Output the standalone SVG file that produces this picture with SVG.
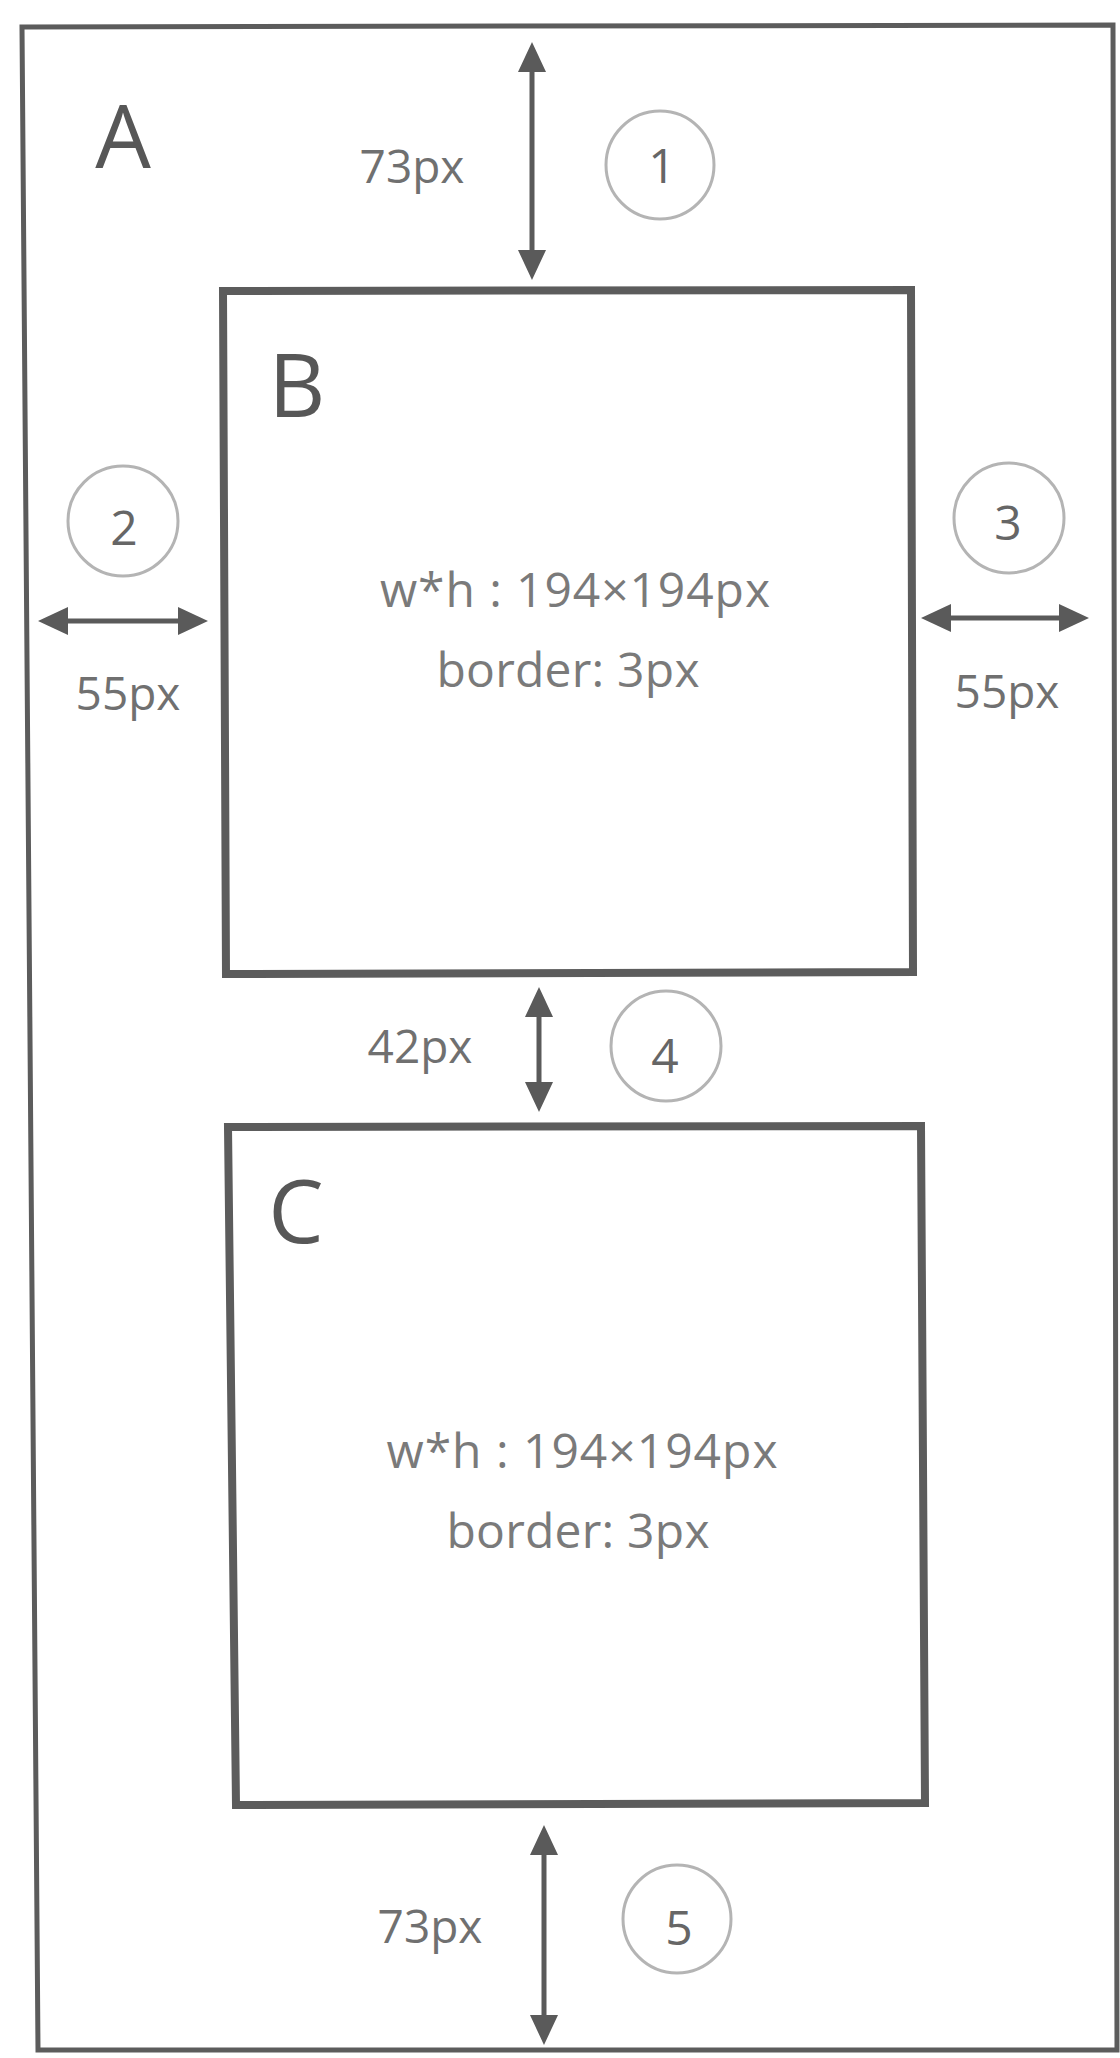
<svg xmlns="http://www.w3.org/2000/svg" width="1120" height="2058" viewBox="0 0 1120 2058">
<style>
  .frame { fill: none; stroke: #5c5c5c; stroke-linejoin: miter; }
  .outer { stroke-width: 5; }
  .box { stroke-width: 8; fill: #fff; }
  .big { font-family: "Open Sans", "Liberation Sans", sans-serif; font-size: 88px; fill: #575757; text-anchor: middle; }
  .lbl { font-family: "Open Sans", "Liberation Sans", sans-serif; font-size: 46px; fill: #707070; text-anchor: middle; }
  .info { font-family: "Open Sans", "Liberation Sans", sans-serif; font-size: 48px; fill: #7a7a7a; text-anchor: middle; }
  .badge { fill: none; stroke: #b4b4b4; stroke-width: 3; }
  .num { font-family: "Open Sans", "Liberation Sans", sans-serif; font-size: 48px; fill: #666; text-anchor: middle; }
  .dim { stroke: #5a5a5a; stroke-width: 5; fill: none; marker-start: url(#ah); marker-end: url(#ah); }
</style>
<defs>
  <marker id="ah" viewBox="0 0 30 28" refX="20" refY="14" markerWidth="30" markerHeight="28" markerUnits="userSpaceOnUse" orient="auto-start-reverse">
    <path d="M0,0 L30,14 L0,28 z" fill="#5a5a5a"/>
  </marker>
</defs>
<rect width="1120" height="2058" fill="#fff"/>

<g id="A">
  <path class="frame outer" d="M22,27 L1113,25 L1117,2050 L38,2050 Z"/>
  <text class="big" x="123" y="168">A</text>
</g>

<g id="B">
  <path class="frame box" d="M223,291 L911,290 L913,972 L226,974 Z"/>
  <text class="big" x="297" y="417">B</text>
  <text class="info" x="575" y="607" textLength="390" lengthAdjust="spacing">w*h : 194×194px</text>
  <text class="info" x="568" y="687" textLength="263" lengthAdjust="spacing">border: 3px</text>
</g>

<g id="C">
  <path class="frame box" d="M228,1127 L921,1126 L925,1803 L236,1805 Z"/>
  <text class="big" x="296" y="1243">C</text>
  <text class="info" x="582" y="1468" textLength="391" lengthAdjust="spacing">w*h : 194×194px</text>
  <text class="info" x="578" y="1548" textLength="263" lengthAdjust="spacing">border: 3px</text>
</g>

<g id="connectors">
  <line class="dim" x1="532" y1="52" x2="532" y2="270"/>
  <line class="dim" x1="48" y1="621" x2="198" y2="621"/>
  <line class="dim" x1="931" y1="618" x2="1079" y2="618"/>
  <line class="dim" x1="539" y1="997" x2="539" y2="1102"/>
  <line class="dim" x1="544" y1="1835" x2="544" y2="2035"/>
</g>

<g id="labels">
  <text class="lbl" x="412" y="183">73px</text>
  <text class="lbl" x="128" y="710">55px</text>
  <text class="lbl" x="1007" y="708">55px</text>
  <text class="lbl" x="420" y="1063">42px</text>
  <text class="lbl" x="430" y="1943">73px</text>
</g>

<g id="badge1"><circle class="badge" cx="660" cy="165" r="54"/><text class="num" x="662" y="183">1</text></g>
<g id="badge2"><circle class="badge" cx="123" cy="521" r="55"/><text class="num" x="124" y="545">2</text></g>
<g id="badge3"><circle class="badge" cx="1009" cy="518" r="55"/><text class="num" x="1008" y="540">3</text></g>
<g id="badge4"><circle class="badge" cx="666" cy="1046" r="55"/><text class="num" x="665" y="1073">4</text></g>
<g id="badge5"><circle class="badge" cx="677" cy="1919" r="54"/><text class="num" x="679" y="1945">5</text></g>
</svg>
